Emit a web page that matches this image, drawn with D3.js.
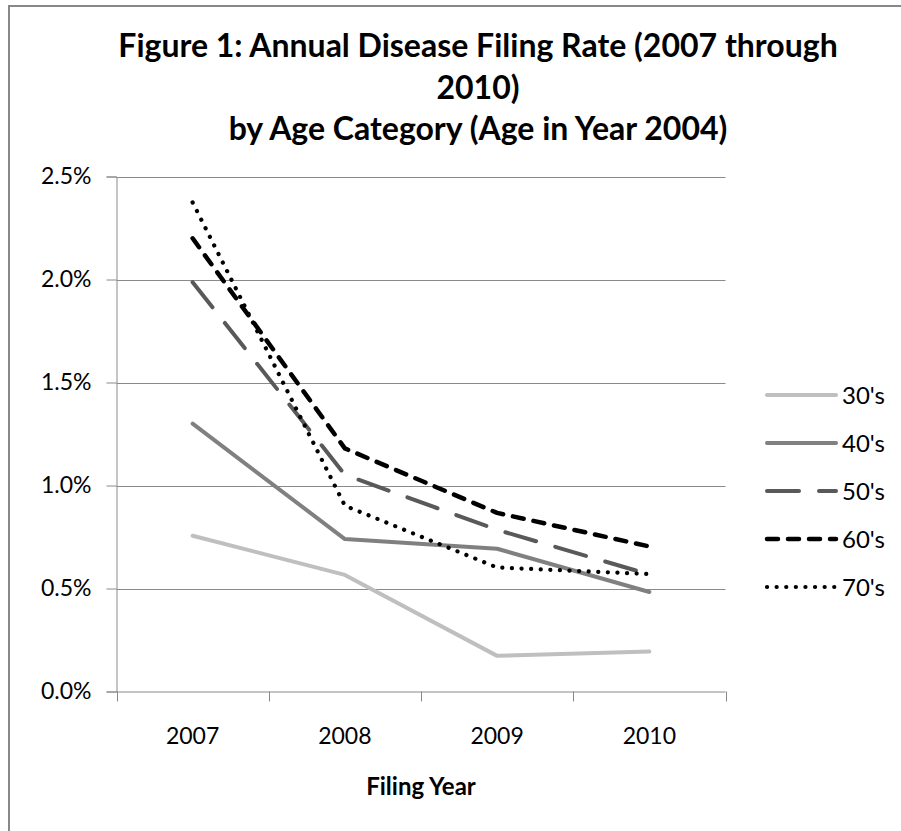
<!DOCTYPE html>
<html>
<head>
<meta charset="utf-8">
<script src="https://cdn.jsdelivr.net/npm/d3@7"></script>
<style>
  html, body { margin: 0; padding: 0; background: #fff; }
  svg { display: block; }
  text { font-family: Lato, "Open Sans", sans-serif; fill: #000; }
</style>
</head>
<body>
<svg id="chart" width="901" height="831"></svg>
<script>
const categories = ["2007", "2008", "2009", "2010"];
const seriesNames = ["30's", "40's", "50's", "60's", "70's"];
const s30 = [0.756, 0.566, 0.173, 0.194];
const s40 = [1.300, 0.740, 0.693, 0.483];
const s50 = [1.987, 1.052, 0.785, 0.568];
const s60 = [2.200, 1.180, 0.867, 0.704];
const s70 = [2.374, 0.902, 0.602, 0.570];
const yTicks = [0, 0.5, 1.0, 1.5, 2.0, 2.5];
const titleLines = ["Figure 1: Annual Disease Filing Rate (2007 through", "2010)", "by Age Category (Age in Year 2004)"];
const xTitle = "Filing Year";

(function () {
const seriesValues = [s30, s40, s50, s60, s70];
const styles = [
  { color: "#bfbfbf", width: 4, dash: null, cap: "round" },
  { color: "#808080", width: 4, dash: null, cap: "round" },
  { color: "#595959", width: 4, dash: "32,20", cap: "round" },
  { color: "#000000", width: 4.5, dash: "11,10", cap: "round" },
  { color: "#000000", width: 4.2, dash: "0.1,9.5", cap: "round" }
];

const svg = d3.select("#chart");
svg.append("rect").attr("x", 0).attr("y", 0).attr("width", 901).attr("height", 831).attr("fill", "#fff");
svg.append("rect").attr("x", 9).attr("y", 6).attr("width", 1000).attr("height", 1000)
  .attr("fill", "none").attr("stroke", "#888").attr("stroke-width", 2);

const pLeft = 116.5, pRight = 725.5, pTop = 176.5, pBottom = 691.5;
const x = d3.scaleBand().domain(categories).range([pLeft, pRight]).padding(0);
const y = d3.scaleLinear().domain([0, 2.5]).range([pBottom, pTop]);
const cx = c => x(c) + x.bandwidth() / 2;

svg.append("g").selectAll("line").data(yTicks.filter(t => t > 0)).join("line")
  .attr("x1", pLeft).attr("x2", pRight)
  .attr("y1", d => Math.round(y(d)) + 0.5).attr("y2", d => Math.round(y(d)) + 0.5)
  .attr("stroke", "#8a8a8a").attr("stroke-width", 1);

const yAxis = d3.axisLeft(y).tickValues(yTicks).tickFormat(d => d.toFixed(1) + "%").tickSize(10).tickPadding(15);
const gy = svg.append("g").attr("transform", `translate(${pLeft},0)`).call(yAxis);
gy.select(".domain").attr("stroke", "#8a8a8a");
gy.selectAll(".tick line").attr("stroke", "#8a8a8a");
gy.selectAll(".tick text").style("font-size", "23px").attr("fill", "#000").style("font-family", "Lato, sans-serif");

const xAxis = d3.axisBottom(x).tickSize(0).tickPadding(36);
const gx = svg.append("g").attr("transform", `translate(0,${pBottom})`).call(xAxis);
gx.select(".domain").attr("stroke", "#8a8a8a").attr("d", `M${pLeft},0.5H${pRight}`);
gx.selectAll(".tick text").style("font-size", "23px").attr("fill", "#000").style("font-family", "Lato, sans-serif");
const bounds = categories.map(c => x(c)).concat([pRight]);
svg.append("g").selectAll("line").data(bounds).join("line")
  .attr("x1", d => Math.round(d) + 0.5).attr("x2", d => Math.round(d) + 0.5)
  .attr("y1", pBottom).attr("y2", pBottom + 10)
  .attr("stroke", "#8a8a8a").attr("stroke-width", 1);

const line = d3.line().x((d, i) => cx(categories[i])).y(d => y(d));
seriesValues.forEach((vals, i) => {
  const st = styles[i];
  const p = svg.append("path").datum(vals).attr("d", line)
    .attr("fill", "none").attr("stroke", st.color).attr("stroke-width", st.width)
    .attr("stroke-linecap", st.cap).attr("stroke-linejoin", "round");
  if (st.dash) p.attr("stroke-dasharray", st.dash);
});

const lg = svg.append("g");
seriesNames.forEach((name, i) => {
  const st = styles[i];
  const yy = 395 + i * 48;
  const l = lg.append("line").attr("x1", 767).attr("x2", 836).attr("y1", yy).attr("y2", yy)
    .attr("stroke", st.color).attr("stroke-width", st.width).attr("stroke-linecap", st.cap);
  if (st.dash) l.attr("stroke-dasharray", st.dash);
  lg.append("text").attr("x", 842).attr("y", yy).attr("dy", "0.36em")
    .style("font-size", "24px").text(name);
});

const titleY = [57, 99, 140];
svg.append("g").selectAll("text").data(titleLines).join("text")
  .attr("x", 478).attr("y", (d, i) => titleY[i]).attr("text-anchor", "middle")
  .style("font-size", "32px").style("font-weight", "bold").text(d => d);

svg.append("text").attr("x", 421).attr("y", 795).attr("text-anchor", "middle")
  .style("font-size", "24px").style("font-weight", "bold").text(xTitle);
})();
</script>
</body>
</html>
